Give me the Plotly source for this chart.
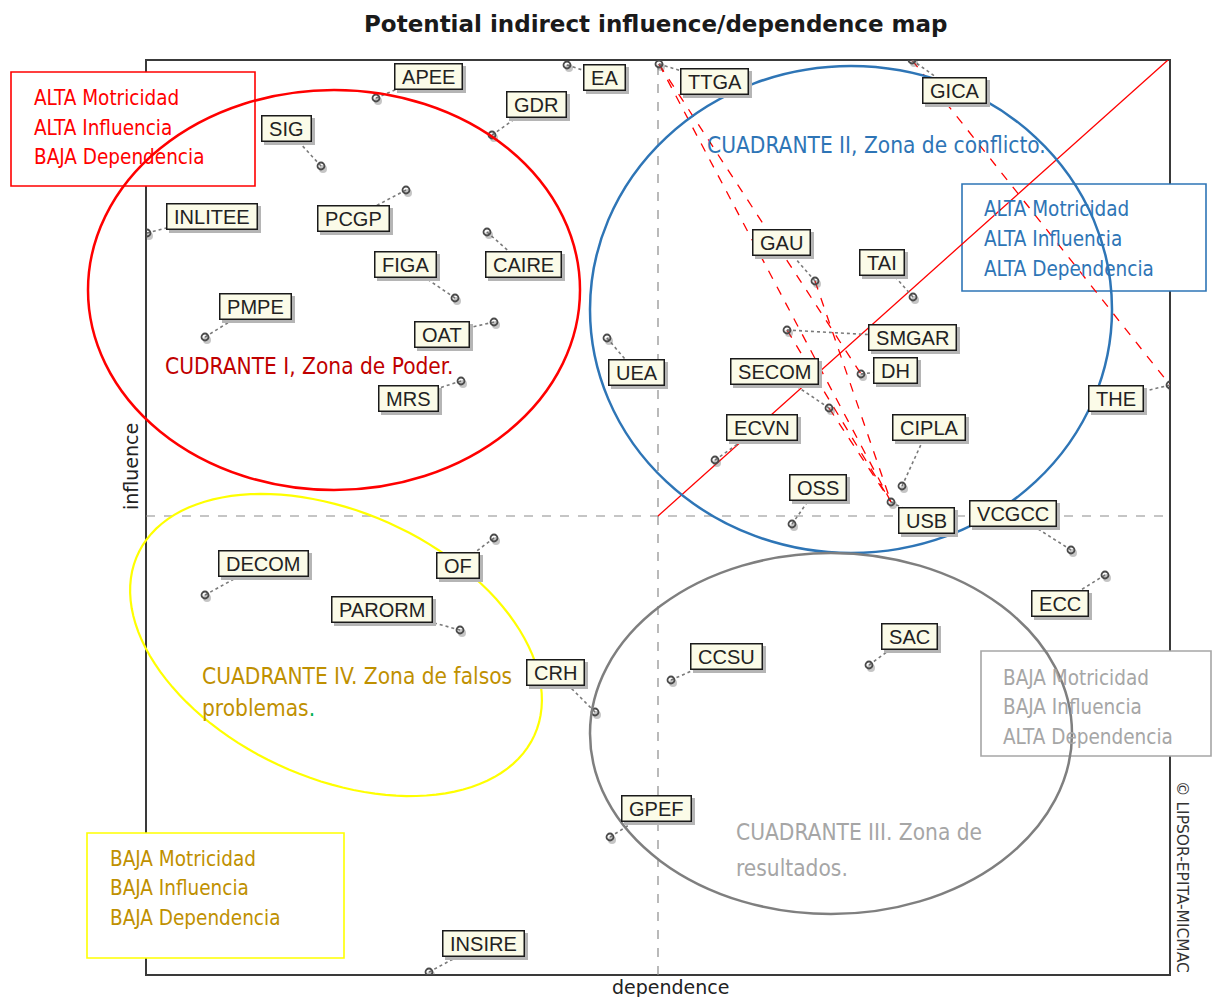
import numpy as np
import plotly.graph_objects as go

# MICMAC indirect influence / dependence map
variables = ["APEE", "EA", "GDR", "SIG", "INLITEE", "PCGP", "CAIRE", "FIGA", "PMPE",
             "OAT", "MRS", "UEA", "TTGA", "GICA", "GAU", "TAI", "SMGAR", "DH", "SECOM",
             "ECVN", "CIPLA", "OSS", "USB", "VCGCC", "THE", "ECC", "SAC", "CCSU", "CRH",
             "GPEF", "INSIRE", "DECOM", "OF", "PARORM"]
dependence = [230, 421, 346, 175, 1, 260, 341, 309, 59,
              348, 315, 461, 513, 766, 669, 767, 641, 715, 683,
              569, 756, 646, 745, 925, 1024, 959, 723, 525, 449,
              464, 283, 59, 348, 314]
influence = [877, 910, 840, 809, 742, 785, 743, 677, 638,
             653, 594, 637, 911, 915, 694, 678, 645, 601, 567,
             515, 489, 451, 473, 425, 590, 400, 310, 295, 263,
             138, 3, 380, 437, 345]

# label offsets from the point (screen pixels, y down)
label_dx = [52, 37, 44, -35, 65, -53, 36, -50, 50,
            -52, -53, 29, 55, 42, -34, -31, 125, 34, -55,
            47, 27, 26, 35, -58, -54, -45, 40, 55, -40,
            46, 54, 58, -36, -78]
label_dy = [-22, 12, -31, -38, -17, 28, 32, -34, -31,
            12, 17, 34, 17, 30, -39, -35, 7, -4, -37,
            -33, -59, -37, 18, -37, 13, 28, -29, -24, -40,
            -29, -29, -32, 27, -21]

influence_links = [("TTGA", "DH"), ("TTGA", "USB"), ("GAU", "USB"),
                   ("SMGAR", "USB"), ("SECOM", "USB"), ("GICA", "THE")]

X_MAX, Y_MAX = 1024, 915
CENTRE_DEP, CENTRE_INF = 512, 459

W, H = 1212, 997
PLOT_LEFT, PLOT_TOP = 146, 60
ML, MT = PLOT_LEFT, PLOT_TOP

NARROW = "DejaVu Sans Condensed, DejaVu Sans"
LABEL_FONT = "Liberation Sans, Arial"


def pxx(x):
    return (x - PLOT_LEFT) / X_MAX


def pxy(y):
    return (PLOT_TOP + Y_MAX - y) / Y_MAX


fig = go.Figure()
pos = {v: (d, i) for v, d, i in zip(variables, dependence, influence)}

shapes = []
# frame
shapes.append(dict(type="rect", xref="paper", yref="paper", x0=0, x1=1, y0=0, y1=1,
                   line=dict(color="#3a3a3a", width=2), layer="below"))
# quadrant dashed lines
shapes.append(dict(type="line", xref="x", yref="y", x0=CENTRE_DEP, x1=CENTRE_DEP, y0=0, y1=Y_MAX,
                   line=dict(color="#8c8c8c", width=1.2, dash="dash"), layer="below"))
shapes.append(dict(type="line", xref="x", yref="y", x0=0, x1=X_MAX + 8, y0=CENTRE_INF, y1=CENTRE_INF,
                   line=dict(color="#8c8c8c", width=1.2, dash="dash"), layer="below"))

# legend-like boxes (white fill hides the frame behind them)
boxes = [
    ((11, 72, 255, 186), "#ff0000", "#ff0000",
     ["ALTA Motricidad", "ALTA Influencia", "BAJA Dependencia"], (32, [98, 128, 157])),
    ((962, 184, 1206, 291), "#2e75b6", "#2e75b6",
     ["ALTA Motricidad", "ALTA Influencia", "ALTA Dependencia"], (982, [209, 239, 269])),
    ((981, 651, 1211, 756), "#a6a6a6", "#a6a6a6",
     ["BAJA Motricidad", "BAJA Influencia", "ALTA Dependencia"], (1001, [678, 707, 737])),
    ((87, 833, 344, 958), "#ffff00", "#bf9000",
     ["BAJA Motricidad", "BAJA Influencia", "BAJA Dependencia"], (108, [859, 888, 918])),
]
annotations = []
for (x0, y0, x1, y1), bcol, tcol, lines, (tx, tys) in boxes:
    shapes.append(dict(type="rect", xref="paper", yref="paper",
                       x0=pxx(x0), x1=pxx(x1), y0=pxy(y1), y1=pxy(y0),
                       fillcolor="white", line=dict(color=bcol, width=1.6), layer="below"))
    for txt, ty in zip(lines, tys):
        annotations.append(dict(text=txt, xref="paper", yref="paper", x=pxx(tx), y=pxy(ty),
                                xanchor="left", yanchor="middle", showarrow=False,
                                font=dict(family=NARROW, size=20.5, color=tcol)))


# quadrant ellipses
def ellipse(x0, x1, y0, y1, color, width):
    return dict(type="circle", xref="paper", yref="paper",
                x0=x0 / X_MAX, x1=x1 / X_MAX, y0=y0 / Y_MAX, y1=y1 / Y_MAX,
                line=dict(color=color, width=width), layer="above")


shapes.append(ellipse(-58, 434, 485, 885, "#ff0000", 2.5))
shapes.append(ellipse(444, 966, 422, 909, "#2e75b6", 2.5))
shapes.append(ellipse(444, 926, 61, 422, "#7f7f7f", 2.5))

cx, cy, a, b, phi = 190, 330, 218, 133, np.radians(-24.5)
t = np.linspace(0, 2 * np.pi, 120)
ex = cx + a * np.cos(t) * np.cos(phi) - b * np.sin(t) * np.sin(phi)
ey = cy + a * np.cos(t) * np.sin(phi) + b * np.sin(t) * np.cos(phi)
path = "M " + " L ".join(f"{x / X_MAX:.5f},{y / Y_MAX:.5f}" for x, y in zip(ex, ey)) + " Z"
shapes.append(dict(type="path", xref="paper", yref="paper", path=path,
                   line=dict(color="#ffff00", width=2.2), layer="above"))

# diagonal
fig.add_trace(go.Scatter(x=[CENTRE_DEP, X_MAX - 2], y=[CENTRE_INF, Y_MAX], mode="lines",
                         line=dict(color="#ff0000", width=1.3), hoverinfo="skip"))

# red dashed influence links
lx, ly = [], []
for s, e in influence_links:
    lx += [pos[s][0], pos[e][0], None]
    ly += [pos[s][1], pos[e][1], None]
fig.add_trace(go.Scatter(x=lx, y=ly, mode="lines",
                         line=dict(color="#ff0000", width=1.3, dash="dash"), hoverinfo="skip"))

# leader lines from points to labels
lab_x = [d + dx for d, dx in zip(dependence, label_dx)]
lab_y = [i - dy for i, dy in zip(influence, label_dy)]
kx, ky = [], []
for d, i, x2, y2 in zip(dependence, influence, lab_x, lab_y):
    kx += [d, x2, None]
    ky += [i, y2, None]
fig.add_trace(go.Scatter(x=kx, y=ky, mode="lines",
                         line=dict(color="#7a7a7a", width=1.6, dash="dot"), hoverinfo="skip"))

# point shadows and points
fig.add_trace(go.Scatter(x=[d + 2 for d in dependence], y=[i - 3 for i in influence], mode="markers",
                         marker=dict(symbol="circle", size=8, color="rgba(90,90,90,0.35)"),
                         hoverinfo="skip"))
fig.add_trace(go.Scatter(x=dependence, y=influence, mode="markers", text=variables,
                         marker=dict(symbol="circle-open", size=7, color="#4a4a4a",
                                     line=dict(width=1.8, color="#4a4a4a"))))

# variable labels with shadow
nb = "\u00a0"
for v, x2, y2 in zip(variables, lab_x, lab_y):
    annotations.append(dict(text=nb + v + nb, x=x2, y=y2, xref="x", yref="y", showarrow=False,
                            xshift=3, yshift=-3, bgcolor="#b5b5b5", bordercolor="#b5b5b5",
                            borderwidth=1.5, borderpad=1,
                            font=dict(family=LABEL_FONT, size=20, color="#b5b5b5")))
    annotations.append(dict(text=nb + v + nb, x=x2, y=y2, xref="x", yref="y", showarrow=False,
                            bgcolor="#fbfbe8", bordercolor="#1a1a1a", borderwidth=1.5, borderpad=1,
                            font=dict(family=LABEL_FONT, size=20, color="#222222")))

# quadrant texts
quad_texts = [
    ("CUDRANTE I, Zona de Poder.", 163, 366, "#c00000"),
    ("CUADRANTE II, Zona de conflicto.", 705, 145, "#2e75b6"),
    ("CUADRANTE IV. Zona de falsos", 200, 676, "#bf9000"),
    ("problemas<span style='color:#00b050'>.</span>", 200, 708, "#bf9000"),
    ("CUADRANTE III. Zona de", 734, 832, "#a6a6a6"),
    ("resultados.", 734, 868, "#a6a6a6"),
]
for txt, tx, ty, col in quad_texts:
    annotations.append(dict(text=txt, xref="paper", yref="paper", x=pxx(tx), y=pxy(ty),
                            xanchor="left", yanchor="middle", showarrow=False,
                            font=dict(family=NARROW, size=22.5, color=col)))

# title, axis names, copyright
annotations.append(dict(text="<b>Potential indirect influence/dependence map</b>", xref="paper", yref="paper",
                        x=pxx(656), y=pxy(24), showarrow=False, xanchor="center", yanchor="middle",
                        font=dict(family="DejaVu Sans", size=23, color="#1a1a1a")))
annotations.append(dict(text="influence", xref="paper", yref="paper", x=pxx(131), y=pxy(467),
                        textangle=-90, showarrow=False, xanchor="center", yanchor="middle",
                        font=dict(family="DejaVu Sans", size=19, color="#222222")))
annotations.append(dict(text="dependence", xref="paper", yref="paper", x=pxx(670), y=pxy(987),
                        showarrow=False, xanchor="center", yanchor="middle",
                        font=dict(family="DejaVu Sans", size=19, color="#222222")))
annotations.append(dict(text="© LIPSOR-EPITA-MICMAC", xref="paper", yref="paper",
                        x=pxx(1182), y=pxy(877), textangle=90, showarrow=False,
                        xanchor="center", yanchor="middle",
                        font=dict(family="DejaVu Sans", size=15.5, color="#333333")))

fig.update_layout(
    width=W, height=H, autosize=False,
    margin=dict(l=ML, r=W - ML - X_MAX, t=MT, b=H - MT - Y_MAX, pad=0),
    plot_bgcolor="white", paper_bgcolor="white",
    showlegend=False,
    xaxis=dict(range=[0, X_MAX], visible=False, fixedrange=True),
    yaxis=dict(range=[0, Y_MAX], visible=False, fixedrange=True),
    shapes=shapes,
    annotations=annotations,
)

# drop the default body margin so the 1212x997 figure fills the window exactly
fig.write_html("out.html", config={"displayModeBar": False},
               post_script="document.body.style.margin='0px';document.body.style.overflow='hidden';")
